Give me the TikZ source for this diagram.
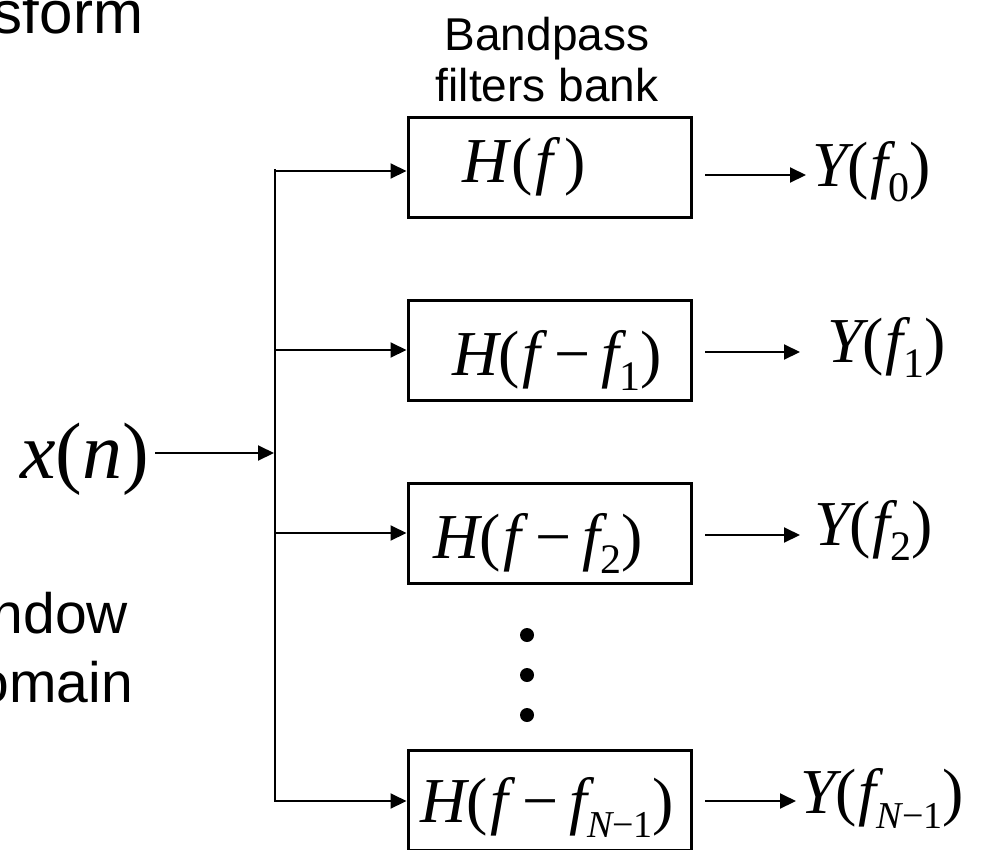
\documentclass[tikz,border=0pt]{standalone}
\usepackage{fontspec}
\setmainfont{Liberation Sans}
\newfontfamily\tms{Liberation Serif}
\usetikzlibrary{arrows.meta}

% italic symbol, lowered index, and the formula font
\newcommand\mi[1]{{\itshape #1}}
\newcommand\lowix[1]{\raisebox{-15pt}{\fontsize{42}{42}\selectfont #1}}
\newcommand\lowixs[1]{\raisebox{-15pt}{\fontsize{38}{38}\selectfont #1}}
\newcommand\eqn[1]{{\tms\fontsize{64}{64}\selectfont #1}}
\newcommand\mminus{\hspace{14pt}\char"2212\relax\hspace{11pt}}
\newcommand\smminus{\char"2212\relax}

\tikzset{
  filterbox/.style={draw, line width=3pt, minimum width=283pt, minimum height=100pt, inner sep=0pt},
  wire/.style={line width=2pt},
  flow/.style={line width=2pt, -{Triangle[length=16pt,width=15pt]}},
  lbl/.style={inner sep=0pt, outer sep=0pt},
  dotmark/.style={circle, fill, inner sep=0pt, minimum size=14pt},
}

\begin{document}
\begin{tikzpicture}[x=1pt, y=-1pt]
\useasboundingbox (0,0) rectangle (982,849);

% fragments of the surrounding slide text
\node[lbl, anchor=base east, font=\fontsize{60}{72}\selectfont] (frag1) at (143,33) {sform};
\node[lbl, anchor=base east, font=\fontsize{57}{68}\selectfont] (frag2) at (128,633) {ndow};
\node[lbl, anchor=base east, font=\fontsize{57}{68}\selectfont] (frag3) at (133,702) {omain};

% title above the filter bank
\node[lbl, anchor=base, font=\fontsize{46}{53}\selectfont] (bp1) at (547,50) {Bandpass};
\node[lbl, anchor=base, font=\fontsize{46}{53}\selectfont] (bp2) at (547,101) {filters bank};

% filter boxes
\node[filterbox] (box0) at (549.5,167) {};
\node[filterbox] (box1) at (549.5,350.5) {};
\node[filterbox] (box2) at (549.5,533.5) {};
\node[filterbox] (box3) at (549.5,800) {};

\node[lbl, anchor=base west] (h0) at (462,182) {\eqn{\mi{H}\hspace{3pt}(\hspace{3pt}\mi{f}\hspace{11pt})}};
\node[lbl, anchor=base west] (h1) at (452,375) {\eqn{\mi{H}(\hspace{3pt}\mi{f}\mminus\mi{f}\lowix{1})}};
\node[lbl, anchor=base west] (h2) at (433,558) {\eqn{\mi{H}(\hspace{3pt}\mi{f}\mminus\mi{f}\lowix{2})}};
\node[lbl, anchor=base west] (h3) at (420,822) {\eqn{\mi{H}(\hspace{3pt}\mi{f}\mminus\mi{f}\lowixs{\mi{N}\smminus1})}};

% vertical ellipsis between the boxes
\node[dotmark] (d1) at (527,635) {};
\node[dotmark] (d2) at (527,675) {};
\node[dotmark] (d3) at (527,715) {};

% input signal
\node[lbl, anchor=base west] (xin) at (20,478) {{\tms\fontsize{80}{80}\selectfont\mi{x}(\mi{n})}};
\coordinate (inS) at (155,453);
\coordinate (busT) at (275,169);
\coordinate (busM) at (275,453);
\coordinate (busB) at (275,802);
\draw[wire] (busT) -- (busB);
\draw[flow] (inS) -- ([xshift=-1pt]busM);

% branches into the filters
\coordinate (b0) at (275,171);
\coordinate (b1) at (275,350);
\coordinate (b2) at (275,533);
\coordinate (b3) at (275,801);
\draw[flow] (b0) -- (b0 -| box0.west);
\draw[flow] (b1) -- (b1 -| box1.west);
\draw[flow] (b2) -- (b2 -| box2.west);
\draw[flow] (b3) -- (b3 -| box3.west);

% outputs
\node[lbl, anchor=base west] (y0) at (812,186) {\eqn{\mi{Y}(\hspace{2pt}\mi{f}\lowix{0})}};
\node[lbl, anchor=base west] (y1) at (827,362) {\eqn{\mi{Y}(\hspace{2pt}\mi{f}\lowix{1})}};
\node[lbl, anchor=base west] (y2) at (814,545) {\eqn{\mi{Y}(\hspace{2pt}\mi{f}\lowix{2})}};
\node[lbl, anchor=base west] (y3) at (800,813) {\eqn{\mi{Y}(\hspace{2pt}\mi{f}\lowixs{\mi{N}\smminus1})}};

\coordinate (o0) at (705,175);
\coordinate (o1) at (705,352);
\coordinate (o2) at (705,535);
\coordinate (o3) at (705,801);
\coordinate (e0) at (806,175);
\coordinate (e1) at (800,352);
\coordinate (e2) at (800,535);
\coordinate (e3) at (796,801);
\draw[flow] (o0) -- (e0);
\draw[flow] (o1) -- (e1);
\draw[flow] (o2) -- (e2);
\draw[flow] (o3) -- (e3);
\end{tikzpicture}
\end{document}
